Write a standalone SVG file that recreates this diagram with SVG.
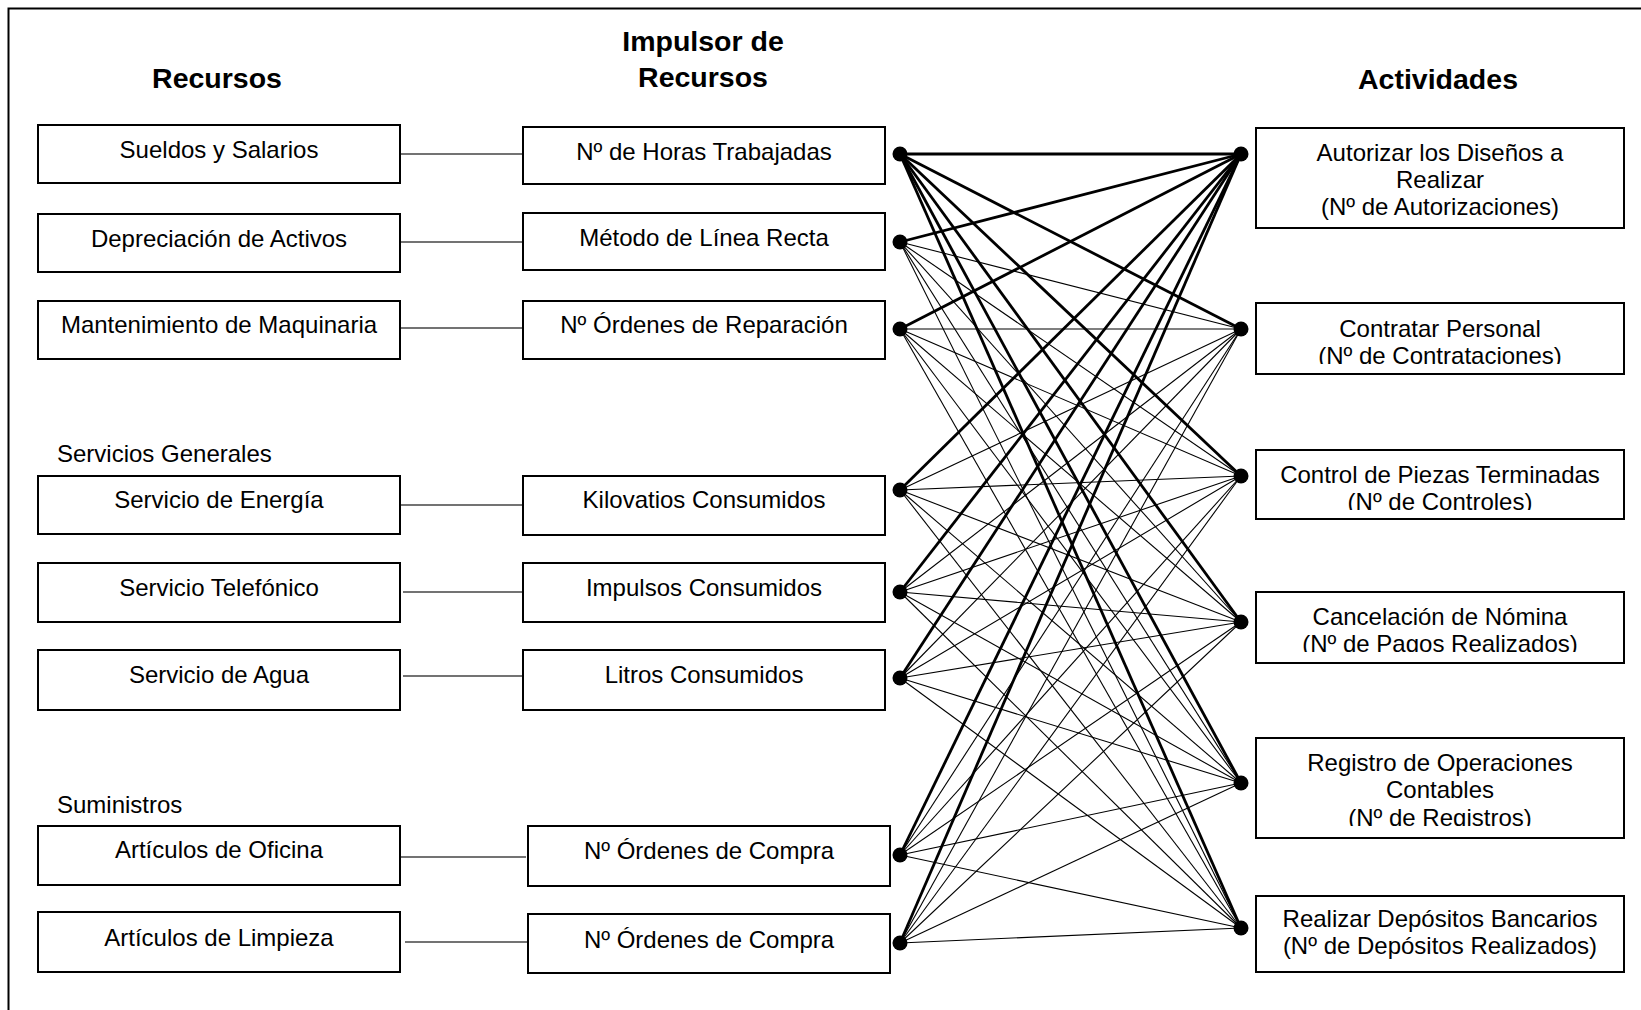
<svg xmlns="http://www.w3.org/2000/svg" width="1641" height="1010" viewBox="0 0 1641 1010">
<style>
.bx{fill:#fff;stroke:#000;stroke-width:2}
.t{font-family:"Liberation Sans",Arial,sans-serif;font-size:24px;fill:#000;text-anchor:middle}
.lbl{font-family:"Liberation Sans",Arial,sans-serif;font-size:24px;fill:#000}
.h{font-family:"Liberation Sans",Arial,sans-serif;font-size:28.5px;font-weight:bold;fill:#000;text-anchor:middle}
.lk{stroke:#444;stroke-width:1.5;fill:none}
.thin{stroke:#000;stroke-width:1.1;fill:none}
.thick{stroke:#000;stroke-width:2.8;fill:none}
.dot{fill:#000}
</style>
<defs>
<clipPath id="c2"><rect x="1256" y="303" width="368" height="61"/></clipPath>
<clipPath id="c3"><rect x="1256" y="450" width="368" height="60"/></clipPath>
<clipPath id="c4"><rect x="1256" y="592" width="368" height="60"/></clipPath>
<clipPath id="c5"><rect x="1256" y="738" width="368" height="88"/></clipPath>
</defs>
<rect width="1641" height="1010" fill="#fff"/>
<path d="M8.5 1010 V8.5 H1641" fill="none" stroke="#000" stroke-width="2"/>

<g id="titles">
<text class="h" x="217" y="88">Recursos</text>
<text class="h" x="703" y="51">Impulsor de</text>
<text class="h" x="703" y="87">Recursos</text>
<text class="h" x="1438" y="89">Actividades</text>
<text class="lbl" x="57" y="462">Servicios Generales</text>
<text class="lbl" x="57" y="813">Suministros</text>
</g>

<g id="connectors">
<line class="lk" x1="400" y1="154" x2="522" y2="154"/>
<line class="lk" x1="400" y1="242" x2="522" y2="242"/>
<line class="lk" x1="400" y1="328" x2="522" y2="328"/>
<line class="lk" x1="400" y1="505" x2="522" y2="505"/>
<line class="lk" x1="403" y1="592" x2="522" y2="592"/>
<line class="lk" x1="403" y1="676" x2="522" y2="676"/>
<line class="lk" x1="400" y1="857" x2="526" y2="857"/>
<line class="lk" x1="405" y1="942" x2="527" y2="942"/>

<g class="thin">
<line x1="900" y1="242" x2="1241" y2="329"/><line x1="900" y1="242" x2="1241" y2="476"/><line x1="900" y1="242" x2="1241" y2="622"/><line x1="900" y1="242" x2="1241" y2="783"/><line x1="900" y1="242" x2="1241" y2="928"/>
<line x1="900" y1="329" x2="1241" y2="329"/><line x1="900" y1="329" x2="1241" y2="476"/><line x1="900" y1="329" x2="1241" y2="622"/><line x1="900" y1="329" x2="1241" y2="783"/><line x1="900" y1="329" x2="1241" y2="928"/>
<line x1="900" y1="490" x2="1241" y2="329"/><line x1="900" y1="490" x2="1241" y2="476"/><line x1="900" y1="490" x2="1241" y2="622"/><line x1="900" y1="490" x2="1241" y2="783"/><line x1="900" y1="490" x2="1241" y2="928"/>
<line x1="900" y1="592" x2="1241" y2="329"/><line x1="900" y1="592" x2="1241" y2="476"/><line x1="900" y1="592" x2="1241" y2="622"/><line x1="900" y1="592" x2="1241" y2="783"/><line x1="900" y1="592" x2="1241" y2="928"/>
<line x1="900" y1="678" x2="1241" y2="329"/><line x1="900" y1="678" x2="1241" y2="476"/><line x1="900" y1="678" x2="1241" y2="622"/><line x1="900" y1="678" x2="1241" y2="783"/><line x1="900" y1="678" x2="1241" y2="928"/>
<line x1="900" y1="855" x2="1241" y2="329"/><line x1="900" y1="855" x2="1241" y2="476"/><line x1="900" y1="855" x2="1241" y2="622"/><line x1="900" y1="855" x2="1241" y2="783"/><line x1="900" y1="855" x2="1241" y2="928"/>
<line x1="900" y1="943" x2="1241" y2="329"/><line x1="900" y1="943" x2="1241" y2="476"/><line x1="900" y1="943" x2="1241" y2="622"/><line x1="900" y1="943" x2="1241" y2="783"/><line x1="900" y1="943" x2="1241" y2="928"/>
</g>
<g class="thick">
<line x1="900" y1="154" x2="1241" y2="154"/><line x1="900" y1="154" x2="1241" y2="329"/><line x1="900" y1="154" x2="1241" y2="476"/><line x1="900" y1="154" x2="1241" y2="622"/><line x1="900" y1="154" x2="1241" y2="783"/><line x1="900" y1="154" x2="1241" y2="928"/>
<line x1="900" y1="242" x2="1241" y2="154"/><line x1="900" y1="329" x2="1241" y2="154"/><line x1="900" y1="490" x2="1241" y2="154"/><line x1="900" y1="592" x2="1241" y2="154"/><line x1="900" y1="678" x2="1241" y2="154"/><line x1="900" y1="855" x2="1241" y2="154"/><line x1="900" y1="943" x2="1241" y2="154"/>
</g>
<g class="dot">
<circle cx="900" cy="154" r="7.5"/><circle cx="900" cy="242" r="7.5"/><circle cx="900" cy="329" r="7.5"/><circle cx="900" cy="490" r="7.5"/><circle cx="900" cy="592" r="7.5"/><circle cx="900" cy="678" r="7.5"/><circle cx="900" cy="855" r="7.5"/><circle cx="900" cy="943" r="7.5"/>
<circle cx="1241" cy="154" r="7.5"/><circle cx="1241" cy="329" r="7.5"/><circle cx="1241" cy="476" r="7.5"/><circle cx="1241" cy="622" r="7.5"/><circle cx="1241" cy="783" r="7.5"/><circle cx="1241" cy="928" r="7.5"/>
</g>
</g>

<g id="rec-sueldos"><rect class="bx" x="38" y="125" width="362" height="58"/><text class="t" x="219" y="158">Sueldos y Salarios</text></g>
<g id="rec-depreciacion"><rect class="bx" x="38" y="214" width="362" height="58"/><text class="t" x="219" y="247">Depreciación de Activos</text></g>
<g id="rec-mantenimiento"><rect class="bx" x="38" y="301" width="362" height="58"/><text class="t" x="219" y="333">Mantenimiento de Maquinaria</text></g>
<g id="rec-energia"><rect class="bx" x="38" y="476" width="362" height="58"/><text class="t" x="219" y="508">Servicio de Energía</text></g>
<g id="rec-telefonico"><rect class="bx" x="38" y="563" width="362" height="59"/><text class="t" x="219" y="596">Servicio Telefónico</text></g>
<g id="rec-agua"><rect class="bx" x="38" y="650" width="362" height="60"/><text class="t" x="219" y="683">Servicio de Agua</text></g>
<g id="rec-oficina"><rect class="bx" x="38" y="826" width="362" height="59"/><text class="t" x="219" y="858">Artículos de Oficina</text></g>
<g id="rec-limpieza"><rect class="bx" x="38" y="912" width="362" height="60"/><text class="t" x="219" y="946">Artículos de Limpieza</text></g>

<g id="imp-horas"><rect class="bx" x="523" y="127" width="362" height="57"/><text class="t" x="704" y="160">Nº de Horas Trabajadas</text></g>
<g id="imp-metodo"><rect class="bx" x="523" y="213" width="362" height="57"/><text class="t" x="704" y="246">Método de Línea Recta</text></g>
<g id="imp-reparacion"><rect class="bx" x="523" y="301" width="362" height="58"/><text class="t" x="704" y="333">Nº Órdenes de Reparación</text></g>
<g id="imp-kilovatios"><rect class="bx" x="523" y="476" width="362" height="59"/><text class="t" x="704" y="508">Kilovatios Consumidos</text></g>
<g id="imp-impulsos"><rect class="bx" x="523" y="563" width="362" height="59"/><text class="t" x="704" y="596">Impulsos Consumidos</text></g>
<g id="imp-litros"><rect class="bx" x="523" y="650" width="362" height="60"/><text class="t" x="704" y="683">Litros Consumidos</text></g>
<g id="imp-compra1"><rect class="bx" x="528" y="826" width="362" height="60"/><text class="t" x="709" y="859">Nº Órdenes de Compra</text></g>
<g id="imp-compra2"><rect class="bx" x="528" y="914" width="362" height="59"/><text class="t" x="709" y="948">Nº Órdenes de Compra</text></g>

<g id="act-autorizar"><rect class="bx" x="1256" y="128" width="368" height="100"/><text class="t" x="1440" y="161">Autorizar los Diseños a</text><text class="t" x="1440" y="188">Realizar</text><text class="t" x="1440" y="215">(Nº de Autorizaciones)</text></g>
<g id="act-contratar"><rect class="bx" x="1256" y="303" width="368" height="71"/><text class="t" x="1440" y="337">Contratar Personal</text><text class="t" x="1440" y="363.5" clip-path="url(#c2)">(Nº de Contrataciones)</text></g>
<g id="act-control"><rect class="bx" x="1256" y="450" width="368" height="69"/><text class="t" x="1440" y="483">Control de Piezas Terminadas</text><text class="t" x="1440" y="509.5" clip-path="url(#c3)">(Nº de Controles)</text></g>
<g id="act-cancelacion"><rect class="bx" x="1256" y="592" width="368" height="71"/><text class="t" x="1440" y="625">Cancelación de Nómina</text><text class="t" x="1440" y="652" clip-path="url(#c4)">(Nº de Pagos Realizados)</text></g>
<g id="act-registro"><rect class="bx" x="1256" y="738" width="368" height="100"/><text class="t" x="1440" y="771">Registro de Operaciones</text><text class="t" x="1440" y="798">Contables</text><text class="t" x="1440" y="825.5" clip-path="url(#c5)">(Nº de Registros)</text></g>
<g id="act-depositos"><rect class="bx" x="1256" y="896" width="368" height="76"/><text class="t" x="1440" y="927">Realizar Depósitos Bancarios</text><text class="t" x="1440" y="954">(Nº de Depósitos Realizados)</text></g>
</svg>
